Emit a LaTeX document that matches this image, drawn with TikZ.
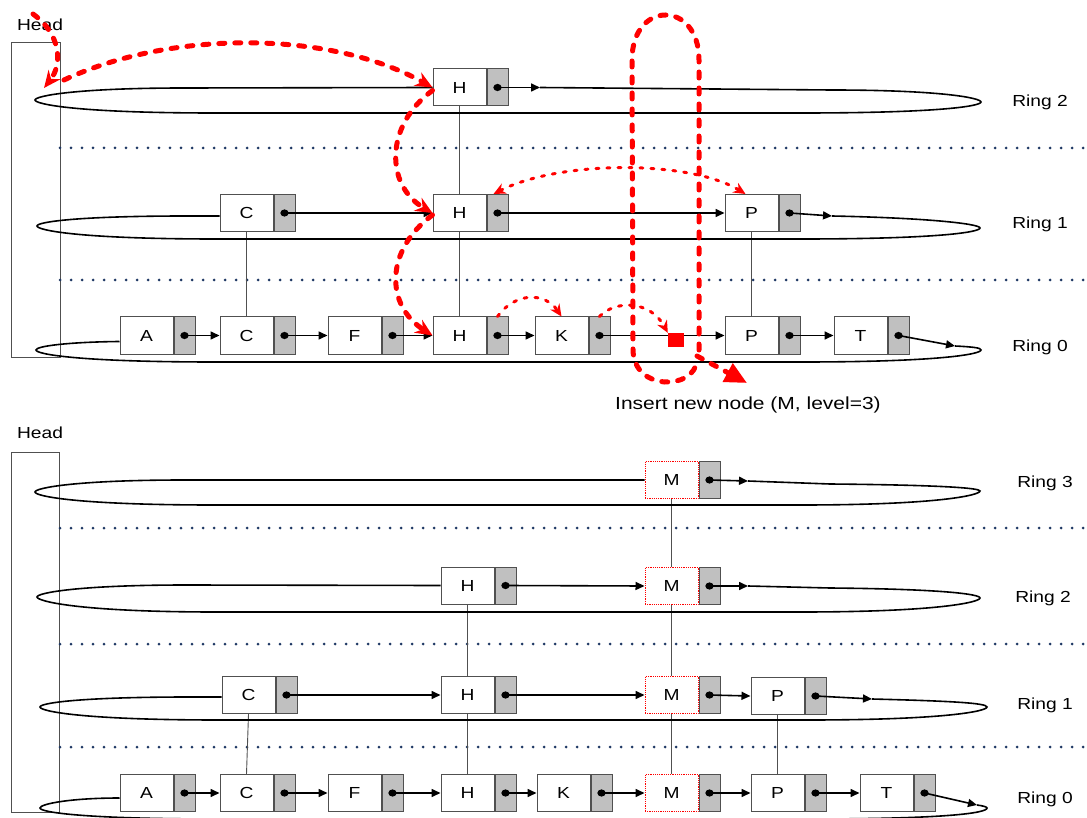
\documentclass[tikz,border=0pt]{standalone}
\usepackage{fontspec}
\setmainfont[FakeStretch=1.2]{Liberation Sans}
\usetikzlibrary{arrows.meta,calc}
\definecolor{dotblue}{RGB}{31,56,100}
\definecolor{ptrgray}{RGB}{192,192,192}
\definecolor{edgegray}{RGB}{80,80,80}
\tikzset{
  keybox/.style={draw=edgegray, line width=1pt, fill=white, minimum width=53pt, minimum height=37pt, inner sep=0pt, font=\fontsize{16}{19}\selectfont},
  newkey/.style={keybox, draw=red, line width=1pt, dash pattern=on 1.2pt off 1pt},
  ptrbox/.style={draw=edgegray, line width=1pt, fill=ptrgray, minimum width=21pt, minimum height=37pt, inner sep=0pt, anchor=west},
  link/.style={draw=black, line width=1.6pt, -{Triangle[length=9pt,width=8pt]}},
  ringline/.style={draw=black, line width=1.6pt},
  rung/.style={draw=edgegray, line width=0.9pt},
  sep/.style={draw=dotblue, line width=3pt, line cap=round, dash pattern=on 0pt off 11pt},
  redthick/.style={draw=red, line width=5pt, line cap=round, dash pattern=on 6pt off 10pt},
  redthin/.style={draw=red, line width=3pt, line cap=round, dash pattern=on 3pt off 8pt},
  bigtip/.style={-{Stealth[length=17pt,width=15pt]}},
  smalltip/.style={-{Stealth[length=12pt,width=11pt]}},
  lbl/.style={font=\fontsize{16}{19}\selectfont, inner sep=0pt},
  headbox/.style={draw=edgegray, line width=1pt, inner sep=0pt}
}
\newcommand\lnode[5][keybox]{%
  \node[#1] (#2) at (#3,#4) {#5};
  \node[ptrbox] (#2p) at (#2.east) {};
  \fill (#2p.center) ellipse (4.2pt and 3.6pt);
}
\begin{document}
\begin{tikzpicture}[x=1pt,y=-1pt]
\useasboundingbox (0,0) rectangle (1087,818);

% ================= TOP DIAGRAM =================
\node[lbl] (headtxtA) at (40,25) {Head};
\node[headbox, minimum width=49pt, minimum height=314pt] (headA) at (35.5,200) {};

\draw[sep] (60,148) -- (1087,148);
\draw[sep] (60,280) -- (1087,280);

% nodes
\lnode{H2}{459.5}{87.5}{H}
\lnode{C1}{246.5}{213}{C}
\lnode{H1}{459.5}{213}{H}
\lnode{P1}{751.5}{213}{P}
\lnode{A0}{146.5}{335.5}{A}
\lnode{C0}{246.5}{335.5}{C}
\lnode{F0}{354.5}{335.5}{F}
\lnode{H0}{459.5}{335.5}{H}
\lnode{K0}{561.5}{335.5}{K}
\lnode{P0}{751.5}{335.5}{P}
\lnode{T0}{860.5}{335.5}{T}

% rungs
\draw[rung] (H2.south) -- (H1.north);
\draw[rung] (C1.south) -- (C0.north);
\draw[rung] (H1.south) -- (H0.north);
\draw[rung] (P1.south) -- (P0.north);

% ring 2 (top)
\coordinate (r2a) at (540,87.5);
\draw[link] (H2p.center) -- (r2a);
\draw[ringline] (r2a) -- (831,90) .. controls (941,90) and (981,98) .. (981,102)
  .. controls (981,106) and (941,113) .. (801,113) -- (215,113)
  .. controls (75,113) and (35,104) .. (35,100)
  .. controls (35,96) and (75,88) .. (185,88) -- (H2.west);

% ring 1 (top)
\coordinate (r1a) at (832,216);
\draw[link] (C1p.center) -- (H1.west);
\draw[link] (H1p.center) -- (P1.west);
\draw[link] (P1p.center) -- (r1a);
\draw[ringline] (r1a) .. controls (930,218) and (980,224) .. (980,228)
  .. controls (980,232) and (940,239) .. (800,239) -- (217,239)
  .. controls (77,239) and (37,230) .. (37,226)
  .. controls (37,222) and (77,216) .. (187,216) -- ([yshift=-3pt]C1.west);

% ring 0 (top)
\coordinate (r0a) at (955,346);
\coordinate (sqc) at (676,340);
\draw[link] (A0p.center) -- (C0.west);
\draw[link] (C0p.center) -- (F0.west);
\draw[link] (F0p.center) -- (H0.west);
\draw[link] (H0p.center) -- (K0.west);
\draw[link] (K0p.center) -- (P0.west);
\draw[link] (P0p.center) -- (T0.west);
\draw[link] (T0p.center) -- (r0a);
\node[fill=red, minimum width=16pt, minimum height=14pt, inner sep=0pt] (sq) at (sqc) {};
\draw[ringline] (r0a) .. controls (975,347) and (981,348) .. (981,350)
  .. controls (981,354) and (941,362) .. (801,362) -- (216,362)
  .. controls (76,362) and (36,354) .. (36,350)
  .. controls (36,346) and (70,342) .. ([yshift=-6pt]A0.west);

\node[lbl] (lr2) at (1040,102) {Ring 2};
\node[lbl] (lr1) at (1040,224) {Ring 1};
\node[lbl] (lr0) at (1040,347) {Ring 0};
\node[lbl, font=\fontsize{17.5}{20}\selectfont] (ins) at (748,405) {Insert new node (M, level=3)};

% red search path
\draw[redthick, bigtip] (33,14) .. controls (62,35) and (62,65) .. (44,88);
\draw[redthick, bigtip] (64,80) .. controls (170,30) and (330,30) .. (H2.west);
\draw[redthick, bigtip] ([yshift=-3pt]H2.west) .. controls (385,125) and (385,185) .. (H1.west);
\draw[redthick, bigtip] ([yshift=-2pt]H1.west) .. controls (385,250) and (385,305) .. (H0.west);
\draw[redthin, {Stealth[length=12pt,width=11pt]}-{Stealth[length=12pt,width=11pt]}] ([xshift=-4pt]H1p.north) .. controls (560,160) and (690,160) .. ([xshift=-6pt]P1.north);
\draw[redthin, smalltip] (H0p.north) .. controls (515,292) and (545,292) .. (K0.north);
\draw[redthin, smalltip] (K0p.north) .. controls (615,300) and (650,300) .. (sq.north west);
\draw[redthick] (699,350) -- (699,60) .. controls (699,0) and (632,0) .. (632,60) -- (633,350)
  .. controls (634,392) and (695,390) .. (697,360);
\draw[redthick, -{Triangle[length=22pt,width=20pt]}] (697,356) -- (747,383);

% ================= BOTTOM DIAGRAM =================
\node[lbl] (headtxtB) at (40,433) {Head};
\node[headbox, minimum width=48pt, minimum height=360pt] (headB) at (35,632) {};

\draw[sep] (60,528) -- (1087,528);
\draw[sep] (60,644) -- (1087,644);
\draw[sep] (60,747) -- (1087,747);

\lnode[newkey]{M3}{671.5}{480}{M}
\lnode{H2b}{467.5}{585.5}{H}
\lnode[newkey]{M2b}{671.5}{586}{M}
\lnode{C1b}{248.5}{695}{C}
\lnode{H1b}{467.5}{695}{H}
\lnode[newkey]{M1b}{671.5}{695}{M}
\lnode{P1b}{777.5}{696}{P}
\lnode{A0b}{146.5}{793}{A}
\lnode{C0b}{246.5}{793}{C}
\lnode{F0b}{354.5}{793}{F}
\lnode{H0b}{467.5}{793}{H}
\lnode{K0b}{563.5}{793}{K}
\lnode[newkey]{M0b}{671.5}{793}{M}
\lnode{P0b}{777.5}{793}{P}
\lnode{T0b}{886.5}{793}{T}

\draw[rung] (M3.south) -- (M2b.north);
\draw[rung] (M2b.south) -- (M1b.north);
\draw[rung] (M1b.south) -- (M0b.north);
\draw[rung] (H2b.south) -- (H1b.north);
\draw[rung] (H1b.south) -- (H0b.north);
\draw[rung] (C1b.south) -- (C0b.north);
\draw[rung] (P1b.south) -- (P0b.north);

% ring 3
\coordinate (r3a) at (748,481);
\draw[link] (M3p.center) -- (r3a);
\draw[ringline] (r3a) -- (830,484) .. controls (940,485) and (980,488) .. (980,491)
  .. controls (980,495) and (940,505) .. (800,505) -- (215,505)
  .. controls (75,505) and (35,496) .. (35,492)
  .. controls (35,488) and (75,480) .. (185,480) -- (M3.west);

% ring 2
\coordinate (r2ba) at (748,586);
\draw[link] (H2bp.center) -- (M2b.west);
\draw[link] (M2bp.center) -- (r2ba);
\draw[ringline] (r2ba) -- (830,588) .. controls (940,589) and (980,594) .. (980,598)
  .. controls (980,602) and (940,612) .. (800,612) -- (217,612)
  .. controls (77,612) and (37,601) .. (37,597)
  .. controls (37,593) and (77,585) .. (187,585) -- (H2b.west);

% ring 1
\coordinate (r1ba) at (872,699);
\draw[link] (C1bp.center) -- (H1b.west);
\draw[link] (H1bp.center) -- (M1b.west);
\draw[link] (M1bp.center) -- (P1b.west);
\draw[link] (P1bp.center) -- (r1ba);
\draw[ringline] (r1ba) .. controls (950,701) and (987,703) .. (987,707)
  .. controls (987,711) and (947,720) .. (807,720) -- (220,720)
  .. controls (80,720) and (40,711) .. (40,707)
  .. controls (40,703) and (80,697) .. (190,697) -- ([yshift=-2pt]C1b.west);

% ring 0
\coordinate (r0ba) at (977,805);
\draw[link] (A0bp.center) -- (C0b.west);
\draw[link] (C0bp.center) -- (F0b.west);
\draw[link] (F0bp.center) -- (H0b.west);
\draw[link] (H0bp.center) -- (K0b.west);
\draw[link] (K0bp.center) -- (M0b.west);
\draw[link] (M0bp.center) -- (P0b.west);
\draw[link] (P0bp.center) -- (T0b.west);
\draw[link] (T0bp.center) -- (r0ba);
\draw[ringline] (r0ba) .. controls (984,806) and (987,807) .. (987,808)
  .. controls (987,813) and (947,819) .. (807,819) -- (220,819)
  .. controls (80,819) and (40,812) .. (40,808)
  .. controls (40,804) and (70,798) .. ([yshift=-5pt]A0b.west);

\node[lbl] (lr3b) at (1045,483) {Ring 3};
\node[lbl] (lr2b) at (1043,598) {Ring 2};
\node[lbl] (lr1b) at (1045,705) {Ring 1};
\node[lbl] (lr0b) at (1045,799) {Ring 0};
\end{tikzpicture}
\end{document}
